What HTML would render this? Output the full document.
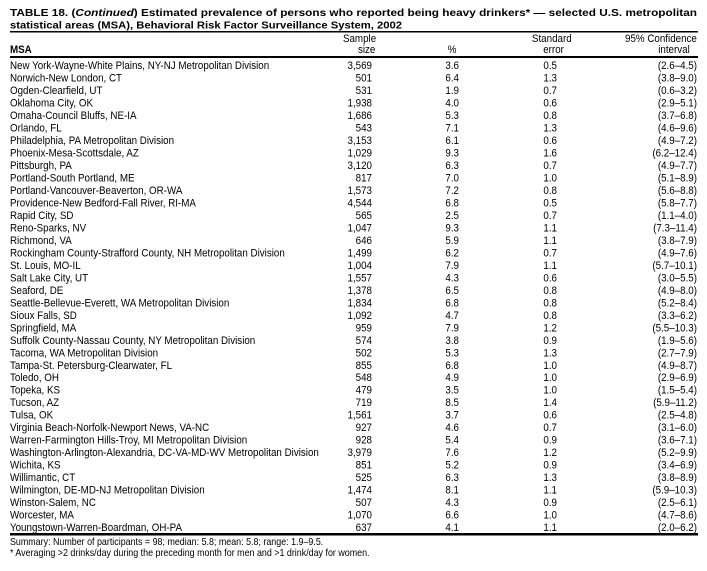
<!DOCTYPE html>
<html><head><meta charset="utf-8"><style>
html,body{margin:0;padding:0;background:#fff;}
svg{display:block;}
text{font-family:"Liberation Sans",Arial,sans-serif;fill:#000;}
</style></head><body>
<svg width="707" height="571" viewBox="0 0 707 571" xmlns="http://www.w3.org/2000/svg">
<text x="10" y="16" font-size="10.5" font-weight="bold" textLength="687" lengthAdjust="spacingAndGlyphs">TABLE 18. (<tspan font-style="italic">Continued</tspan>) Estimated prevalence of persons who reported being heavy drinkers* — selected U.S. metropolitan</text>
<text x="10" y="28.5" font-size="10.5" font-weight="bold" textLength="392" lengthAdjust="spacingAndGlyphs">statistical areas (MSA), Behavioral Risk Factor Surveillance System, 2002</text>
<rect x="10" y="31" width="688" height="1.5" fill="#000"/>
<g transform="scale(0.89,1)" font-size="11">
<text x="404" y="42" text-anchor="middle">Sample</text>
<text x="412" y="53" text-anchor="middle">size</text>
<text x="11.2" y="53" font-weight="bold">MSA</text>
<text x="508" y="53" text-anchor="middle">%</text>
<text x="620" y="42" text-anchor="middle">Standard</text>
<text x="622" y="53" text-anchor="middle">error</text>
<text x="783" y="42" text-anchor="end">95% Confidence</text>
<text x="775" y="53" text-anchor="end">interval</text>
</g>
<rect x="10" y="56" width="688" height="2" fill="#000"/>
<g transform="scale(0.89,1)" font-size="11" id="rows">
</g>
<rect x="10" y="533" width="688" height="2.5" fill="#000"/>
<g transform="scale(0.89,1)" font-size="10.2">
<text x="11.2" y="545" textLength="352" lengthAdjust="spacingAndGlyphs">Summary: Number of participants = 98; median: 5.8; mean: 5.8; range: 1.9–9.5.</text>
<text x="11.2" y="556" textLength="404" lengthAdjust="spacingAndGlyphs">* Averaging &gt;2 drinks/day during the preceding month for men and &gt;1 drink/day for women.</text>
</g>
<script>
var d=[["New York-Wayne-White Plains, NY-NJ Metropolitan Division","3,569","3.6","0.5","(2.6–4.5)"],
["Norwich-New London, CT","501","6.4","1.3","(3.8–9.0)"],
["Ogden-Clearfield, UT","531","1.9","0.7","(0.6–3.2)"],
["Oklahoma City, OK","1,938","4.0","0.6","(2.9–5.1)"],
["Omaha-Council Bluffs, NE-IA","1,686","5.3","0.8","(3.7–6.8)"],
["Orlando, FL","543","7.1","1.3","(4.6–9.6)"],
["Philadelphia, PA Metropolitan Division","3,153","6.1","0.6","(4.9–7.2)"],
["Phoenix-Mesa-Scottsdale, AZ","1,029","9.3","1.6","(6.2–12.4)"],
["Pittsburgh, PA","3,120","6.3","0.7","(4.9–7.7)"],
["Portland-South Portland, ME","817","7.0","1.0","(5.1–8.9)"],
["Portland-Vancouver-Beaverton, OR-WA","1,573","7.2","0.8","(5.6–8.8)"],
["Providence-New Bedford-Fall River, RI-MA","4,544","6.8","0.5","(5.8–7.7)"],
["Rapid City, SD","565","2.5","0.7","(1.1–4.0)"],
["Reno-Sparks, NV","1,047","9.3","1.1","(7.3–11.4)"],
["Richmond, VA","646","5.9","1.1","(3.8–7.9)"],
["Rockingham County-Strafford County, NH Metropolitan Division","1,499","6.2","0.7","(4.9–7.6)"],
["St. Louis, MO-IL","1,004","7.9","1.1","(5.7–10.1)"],
["Salt Lake City, UT","1,557","4.3","0.6","(3.0–5.5)"],
["Seaford, DE","1,378","6.5","0.8","(4.9–8.0)"],
["Seattle-Bellevue-Everett, WA Metropolitan Division","1,834","6.8","0.8","(5.2–8.4)"],
["Sioux Falls, SD","1,092","4.7","0.8","(3.3–6.2)"],
["Springfield, MA","959","7.9","1.2","(5.5–10.3)"],
["Suffolk County-Nassau County, NY Metropolitan Division","574","3.8","0.9","(1.9–5.6)"],
["Tacoma, WA Metropolitan Division","502","5.3","1.3","(2.7–7.9)"],
["Tampa-St. Petersburg-Clearwater, FL","855","6.8","1.0","(4.9–8.7)"],
["Toledo, OH","548","4.9","1.0","(2.9–6.9)"],
["Topeka, KS","479","3.5","1.0","(1.5–5.4)"],
["Tucson, AZ","719","8.5","1.4","(5.9–11.2)"],
["Tulsa, OK","1,561","3.7","0.6","(2.5–4.8)"],
["Virginia Beach-Norfolk-Newport News, VA-NC","927","4.6","0.7","(3.1–6.0)"],
["Warren-Farmington Hills-Troy, MI Metropolitan Division","928","5.4","0.9","(3.6–7.1)"],
["Washington-Arlington-Alexandria, DC-VA-MD-WV Metropolitan Division","3,979","7.6","1.2","(5.2–9.9)"],
["Wichita, KS","851","5.2","0.9","(3.4–6.9)"],
["Willimantic, CT","525","6.3","1.3","(3.8–8.9)"],
["Wilmington, DE-MD-NJ Metropolitan Division","1,474","8.1","1.1","(5.9–10.3)"],
["Winston-Salem, NC","507","4.3","0.9","(2.5–6.1)"],
["Worcester, MA","1,070","6.6","1.0","(4.7–8.6)"],
["Youngstown-Warren-Boardman, OH-PA","637","4.1","1.1","(2.0–6.2)"]];
var g=document.getElementById("rows"),ns="http://www.w3.org/2000/svg",s=0.89;
var xs=[[10,"start"],[372,"end"],[459,"end"],[557,"end"],[697,"end"]];
d.forEach(function(r,i){var y=69+i*12.49;
r.forEach(function(v,j){var t=document.createElementNS(ns,"text");
t.setAttribute("x",xs[j][0]/s);t.setAttribute("y",y);t.setAttribute("text-anchor",xs[j][1]);
t.textContent=v;g.appendChild(t);});});
</script>
</svg>
</body></html>
